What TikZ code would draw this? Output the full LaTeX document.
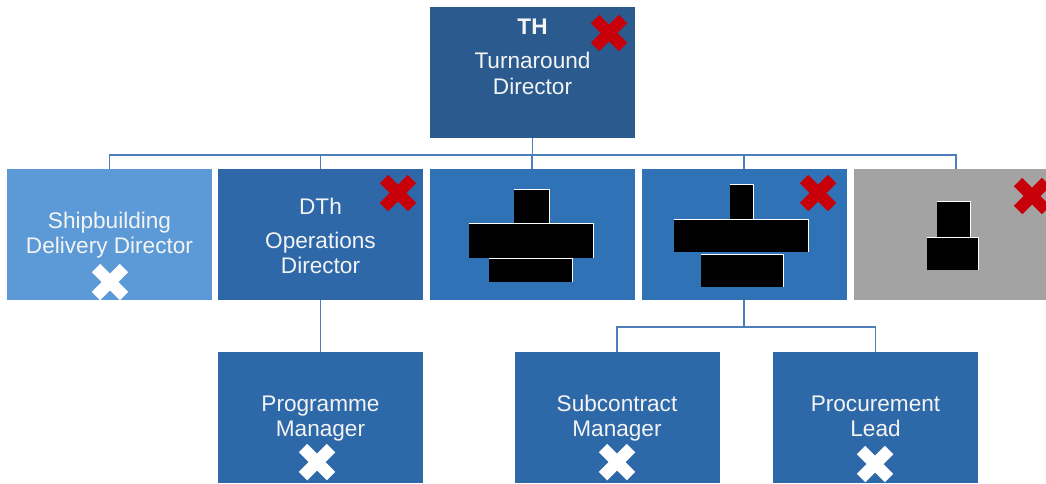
\documentclass[tikz,border=0pt]{standalone}
\usepackage{fontspec}
\setmainfont{Liberation Sans}
\definecolor{topblue}{HTML}{2A5A8E}
\definecolor{midblue}{HTML}{2E68A8}
\definecolor{brightblue}{HTML}{2F72B6}
\definecolor{paleblue}{HTML}{5B9AD6}
\definecolor{boxgray}{HTML}{A3A3A3}
\definecolor{lowblue}{HTML}{2D68A9}
\definecolor{linkblue}{HTML}{4F7FB8}
\definecolor{markred}{HTML}{C8000A}
\definecolor{txt}{HTML}{F4F4F4}
\tikzset{
  post/.style={fill=#1, draw=none, minimum width=205pt, minimum height=131pt, inner sep=0pt, anchor=north},
  lbl/.style={text=txt, font=\fontsize{22.6}{24.5}\selectfont, inner sep=0pt, align=center},
  conn/.style={draw=linkblue, line width=1.1pt},
}
% cross mark built from two crossed bars
\newcommand{\crossmark}[3]{%
  \begin{scope}[shift={(#1,#2)}]
    \draw[#3, line width=12pt, line cap=butt] (-14,-14) -- (14,14);
    \draw[#3, line width=12pt, line cap=butt] (-14,14) -- (14,-14);
  \end{scope}}
% black block with a thin light edge on top and right
\newcommand{\blackout}[4]{%
  \fill[black] (#1,#2) rectangle (#3,#4);
  \draw[white, line width=0.9pt] (#1,#2) -- (#3,#2) -- (#3,#4);}
\begin{document}
\begin{tikzpicture}[x=1pt,y=-1pt]
\useasboundingbox[fill=white] (0,0) rectangle (1046,483);
\begin{scope}
\clip (0,0) rectangle (1046,483);

% boxes
\node[post=topblue] (th) at (532.5,7) {};
\node[post=paleblue] (b1) at (109.5,169) {};
\node[post=midblue] (b2) at (320.5,169) {};
\node[post=brightblue] (b3) at (532,169) {};
\node[post=brightblue] (b4) at (744,169) {};
\node[post=boxgray] (b5) at (956,169) {};
\node[post=lowblue] (c1) at (320.5,352) {};
\node[post=lowblue] (c2) at (617,352) {};
\node[post=lowblue] (c3) at (875.5,352) {};

% connectors
\coordinate (busA) at (532.5,155);
\coordinate (busB) at (744,327);
\draw[conn] (th.south) -- (busA);
\draw[conn] (b1.north) |- (busA);
\draw[conn] (b2.north) |- (busA);
\draw[conn] (b3.north) |- (busA);
\draw[conn] (b4.north) |- (busA);
\draw[conn] (b5.north) |- (busA);
\draw[conn] (b2.south) -- (c1.north);
\draw[conn] (b4.south) -- (busB);
\draw[conn] (c2.north) |- (busB);
\draw[conn] (c3.north) |- (busB);

% labels
\node[lbl, font=\bfseries\fontsize{22.6}{24.5}\selectfont] (tTH) at (532.5,27) {TH};
\node[lbl] (tTD) at (532.5,73.5) {Turnaround\\[1.5pt]Director};
\node[lbl] (tSB) at (109.5,235) {Shipbuilding\\Delivery Director};
\node[lbl] (tDTh) at (320.5,206) {DTh};
\node[lbl] (tOD) at (320.5,253) {Operations\\Director};
\node[lbl] (tPM) at (320.5,418.5) {Programme\\[0.5pt]Manager};
\node[lbl] (tSM) at (617,418.5) {Subcontract\\[0.5pt]Manager};
\node[lbl] (tPL) at (875.5,416.5) {Procurement\\[0.5pt]Lead};

% redacted blocks
\blackout{514}{189}{549}{225}
\blackout{469}{223}{593}{258}
\blackout{489}{258}{572}{282}
\blackout{730}{184}{753}{219}
\blackout{674}{219}{808}{252}
\blackout{701}{254}{783}{287}
\blackout{937}{201}{970}{237}
\blackout{927}{237}{978}{270}

% cross marks
\crossmark{609}{33}{markred}
\crossmark{398}{193}{markred}
\crossmark{818}{193}{markred}
\crossmark{1032}{196}{markred}
\crossmark{110}{282}{white}
\crossmark{317}{462}{white}
\crossmark{617}{462}{white}
\crossmark{875}{464}{white}
\end{scope}
\end{tikzpicture}
\end{document}
